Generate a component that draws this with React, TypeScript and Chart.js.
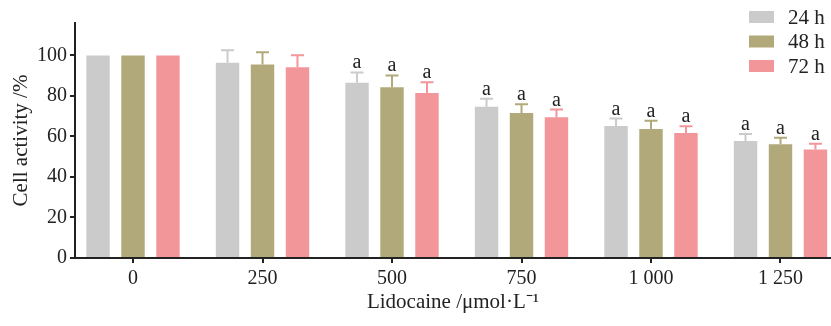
import React, { useEffect, useRef } from "react";
import { Chart, registerables } from "chart.js";

Chart.register(...registerables);

const categories = ["0", "250", "500", "750", "1 000", "1 250"];
const seriesLabels = ["24 h", "48 h", "72 h"];
const values24 = [100, 96.4, 86.5, 74.6, 65.2, 57.8];
const values48 = [100, 95.5, 84.3, 71.6, 63.7, 56.1];
const values72 = [100, 94.2, 81.5, 69.5, 61.7, 53.5];
const errors24 = [0, 6.1, 5.1, 4.0, 3.6, 3.4];
const errors48 = [0, 6.1, 5.8, 4.3, 4.0, 3.2];
const errors72 = [0, 5.9, 5.3, 3.8, 3.3, 2.9];
const marks24 = ["", "", "a", "a", "a", "a"];
const marks48 = ["", "", "a", "a", "a", "a"];
const marks72 = ["", "", "a", "a", "a", "a"];
const yTicks = [0, 20, 40, 60, 80, 100];
const colors = ["#cbcbcc", "#b2a97b", "#f3969a"];

const FONT = "'Liberation Serif', 'Times New Roman', serif";

export default function App() {
  const ref = useRef<HTMLCanvasElement | null>(null);
  useEffect(() => {
    if (!ref.current) return;
    const vals = [values24, values48, values72];
    const errs = [errors24, errors48, errors72];
    const marks = [marks24, marks48, marks72];

    const errorPlugin = {
      id: "errbars",
      afterDatasetsDraw(chart: any) {
        const ctx = chart.ctx;
        const y = chart.scales.y;
        const x = chart.scales.x;
        ctx.save();
        chart.data.datasets.forEach((ds: any, di: number) => {
          const meta = chart.getDatasetMeta(di);
          meta.data.forEach((bar: any, i: number) => {
            const v = vals[di][i];
            const e = errs[di][i];
            const topY = y.getPixelForValue(v + e);
            const barY = y.getPixelForValue(v);
            ctx.strokeStyle = colors[di];
            ctx.lineWidth = 2;
            if (e > 0) {
              ctx.beginPath();
              ctx.moveTo(bar.x, barY);
              ctx.lineTo(bar.x, topY);
              ctx.moveTo(bar.x - 6.5, topY);
              ctx.lineTo(bar.x + 6.5, topY);
              ctx.stroke();
            }
            const m = marks[di][i];
            if (m) {
              ctx.fillStyle = "#222";
              ctx.font = `20px ${FONT}`;
              ctx.textAlign = "center";
              ctx.textBaseline = "alphabetic";
              ctx.fillText(m, bar.x, topY - 4);
            }
          });
        });
        // x tick marks
        ctx.strokeStyle = "#222";
        ctx.lineWidth = 2;
        const base = chart.chartArea.bottom;
        categories.forEach((_, i) => {
          const px = Math.round(x.getPixelForValue(i));
          ctx.beginPath();
          ctx.moveTo(px, base);
          ctx.lineTo(px, base + 5);
          ctx.stroke();
        });
        ctx.restore();
      },
      afterDraw(chart: any) {
        const ctx = chart.ctx;
        ctx.save();
        chart.data.datasets.forEach((ds: any, di: number) => {
          const cy = 17 + di * 24.5;
          ctx.fillStyle = ds.backgroundColor;
          ctx.fillRect(749, cy - 6, 25, 12);
          ctx.fillStyle = "#222";
          ctx.font = `21px ${FONT}`;
          ctx.textAlign = "left";
          ctx.textBaseline = "middle";
          ctx.fillText(ds.label, 788, cy + 1);
        });
        ctx.restore();
      },
    };

    const chart = new Chart(ref.current, {
      type: "bar",
      data: {
        datasets: vals.map((arr, di) => ({
          label: seriesLabels[di],
          data: arr.map((v, i) => ({ x: i, y: v })),
          backgroundColor: colors[di],
          borderWidth: 0,
          categoryPercentage: 0.81,
          barPercentage: 0.67,
        })),
      },
      options: {
        animation: false,
        responsive: true,
        maintainAspectRatio: false,
        layout: { padding: { left: 0, right: 0, top: 23, bottom: 0 } },
        plugins: { legend: { display: false }, tooltip: { enabled: false } },
        scales: {
          x: {
            type: "linear",
            offset: false,
            min: -0.448,
            max: 5.39,
            afterBuildTicks: (s: any) => {
              s.ticks = categories.map((_, i) => ({ value: i }));
            },
            afterFit: (s: any) => {
              s.height = 68;
            },
            ticks: {
              callback: (v: any) => categories[v as number] ?? "",
              font: { family: FONT, size: 20 },
              color: "#222",
              padding: 1,
              maxRotation: 0,
              autoSkip: false,
            },
            grid: {
              display: false,
              offset: false,
              drawOnChartArea: false,
            },
            border: { display: true, color: "#222", width: 2 },
            title: {
              display: true,
              text: "Lidocaine /μmol·L⁻¹",
              font: { family: FONT, size: 21 },
              color: "#222",
              padding: { top: 0, bottom: 11 },
            },
          },
          y: {
            type: "linear",
            min: 0,
            max: 116,
            afterBuildTicks: (s: any) => {
              s.ticks = yTicks.map((v) => ({ value: v }));
            },
            afterFit: (s: any) => {
              s.width = 75;
            },
            ticks: {
              font: { family: FONT, size: 20 },
              color: "#222",
              padding: 3,
            },
            grid: {
              display: true,
              drawOnChartArea: false,
              drawTicks: true,
              tickLength: 5,
              color: "#222",
              lineWidth: 2,
            },
            border: { display: true, color: "#222", width: 2 },
            title: {
              display: true,
              text: "Cell activity /%",
              font: { family: FONT, size: 21 },
              color: "#222",
              padding: { top: 9, bottom: 0 },
            },
          },
        },
      },
      plugins: [errorPlugin],
    });
    return () => chart.destroy();
  }, []);

  return (
    <div style={{ position: "fixed", left: 0, top: 0, width: 831, height: 326, background: "#fff" }}>
      <canvas ref={ref} />
    </div>
  );
}
